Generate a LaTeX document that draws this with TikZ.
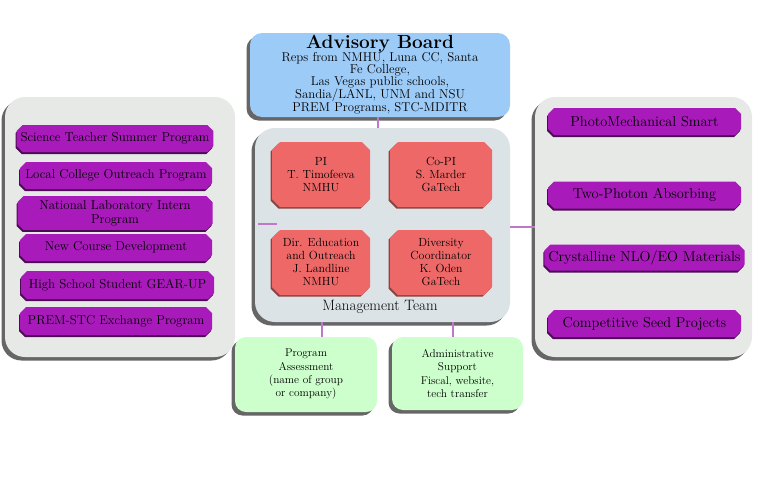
\documentclass[tikz,border=0pt]{standalone}
\usetikzlibrary{shadows,shapes.misc}
\definecolor{advblue}{HTML}{9DCBF7}
\definecolor{mgmtgray}{HTML}{DCE3E6}
\definecolor{sidegray}{HTML}{E7E9E7}
\definecolor{redbox}{HTML}{EE6868}
\definecolor{purp}{HTML}{A91ABB}
\definecolor{greenbox}{HTML}{CCFFCC}
\definecolor{linkc}{HTML}{C078C8}
\tikzset{
  bigshadow/.style={drop shadow={shadow xshift=-3.5pt,shadow yshift=-3.5pt,fill=black!80,opacity=.75}},
  panel/.style={rounded corners=20pt,fill=sidegray,bigshadow,inner sep=0pt},
  mgmtbox/.style={rounded corners=20pt,fill=mgmtgray,bigshadow,inner sep=0pt},
  advbox/.style={rounded corners=12pt,fill=advblue,bigshadow,inner sep=2pt,align=center,font=\fontsize{12.8}{12}\selectfont},
  redstyle/.style={chamfered rectangle,chamfered rectangle xsep=4pt,chamfered rectangle ysep=4pt,fill=redbox,
    drop shadow={shadow xshift=-1.5pt,shadow yshift=-1.5pt,fill=red!40!black,opacity=.7},
    inner sep=1pt,align=center,font=\fontsize{11.8}{13}\selectfont},
  button/.style={chamfered rectangle,chamfered rectangle xsep=3pt,chamfered rectangle ysep=3pt,fill=purp,
    drop shadow={shadow xshift=-1pt,shadow yshift=-2pt,fill=purp!45!black,opacity=1},
    inner sep=1pt,align=center,font=\fontsize{12.9}{12.9}\selectfont},
  rbutton/.style={button,font=\fontsize{14.4}{14.4}\selectfont},
  greenstyle/.style={rounded corners=11pt,fill=greenbox,bigshadow,inner sep=1pt,align=center,font=\fontsize{11.3}{13.3}\selectfont},
  link/.style={draw=linkc,line width=1.3pt},
}
\begin{document}
\begin{tikzpicture}[x=1pt,y=-1pt]
\useasboundingbox[fill=white] (0,0) rectangle (758,480);
% panels
\node[panel,minimum width=230pt,minimum height=260pt] (left) at (120,227) {};
\node[panel,minimum width=217pt,minimum height=260pt] (right) at (643.5,227) {};
\node[mgmtbox,minimum width=255pt,minimum height=194pt] (mgmt) at (382.5,225) {};
\node[advbox,minimum width=260pt,minimum height=84pt] (adv) at (380,75)
  {{\fontsize{19}{19}\selectfont\bfseries Advisory Board}\\[-1pt]
   Reps from NMHU, Luna CC, Santa\\ Fe College,\\ Las Vegas public schools,\\ Sandia/LANL, UNM and NSU\\ PREM Programs, STC-MDITR};
% management team
\node[redstyle,minimum width=98pt,minimum height=65pt] (pi) at (321,174.5) {PI\\ T. Timofeeva\\ NMHU};
\node[redstyle,minimum width=102pt,minimum height=65pt] (copi) at (441,174.5) {Co-PI\\ S. Marder\\ GaTech};
\node[redstyle,minimum width=98pt,minimum height=65pt] (dired) at (321,262.5) {Dir. Education\\ and Outreach\\ J. Landline\\ NMHU};
\node[redstyle,minimum width=102pt,minimum height=65pt] (div) at (441,262.5) {Diversity\\ Coordinator\\ K. Oden\\ GaTech};
\node[font=\fontsize{15}{15}\selectfont] (mt) at (380,307) {Management Team};
% left buttons
\node[button,minimum width=194pt,minimum height=27pt] (b1) at (115,138.5) {Science Teacher Summer Program};
\node[button,minimum width=192pt,minimum height=27pt] (b2) at (116,175.5) {Local College Outreach Program};
\node[button,minimum width=195pt,minimum height=30pt,font=\fontsize{12.9}{14}\selectfont] (b3) at (115,213) {National Laboratory Intern\\ Program};
\node[button,minimum width=192pt,minimum height=27pt] (b4) at (116,247.5) {New Course Development};
\node[button,minimum width=193pt,minimum height=28pt] (b5) at (117.5,285) {High School Student GEAR-UP};
\node[button,minimum width=192pt,minimum height=28pt] (b6) at (116,321) {PREM-STC Exchange Program};
% right buttons
\node[rbutton,minimum width=193pt,minimum height=27pt] (r1) at (644.5,121.5) {PhotoMechanical Smart};
\node[rbutton,minimum width=193pt,minimum height=27pt] (r2) at (644.5,195) {Two-Photon Absorbing};
\node[rbutton,minimum width=193pt,minimum height=26pt] (r3) at (644.5,257.5) {Crystalline NLO/EO Materials};
\node[rbutton,minimum width=193pt,minimum height=27pt] (r4) at (644.5,323.5) {Competitive Seed Projects};
% green boxes
\node[greenstyle,minimum width=142pt,minimum height=75pt] (g1) at (306,374.5) {Program\\ Assessment\\ (name of group\\ or company)};
\node[greenstyle,minimum width=131pt,minimum height=73pt] (g2) at (457.5,373.5) {Administrative\\ Support\\ Fiscal, website,\\ tech transfer};
% connectors
\coordinate (lc) at (277,224);
\coordinate (ls) at (258,224);
\draw[link] (ls) -- (lc);
\draw[link] (mgmt.east |- 0,227) -- (right.west |- 0,227);
\draw[link] (adv.south -| 378,0) -- (mgmt.north -| 378,0);
\draw[link] (mgmt.south -| 322,0) -- (g1.north -| 322,0);
\draw[link] (mgmt.south -| 453,0) -- (g2.north -| 453,0);
\end{tikzpicture}
\end{document}
